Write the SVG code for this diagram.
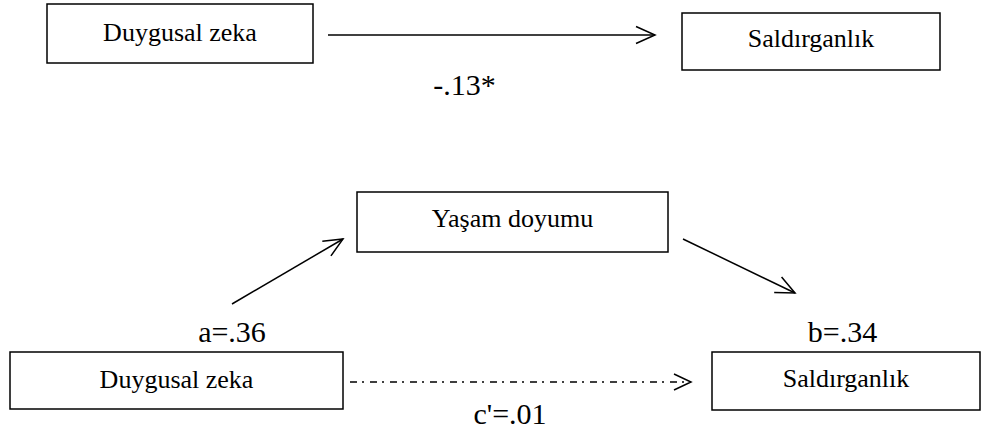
<svg xmlns="http://www.w3.org/2000/svg" width="981" height="429" viewBox="0 0 981 429">
<style>
.box{fill:#fff;stroke:#000;stroke-width:1.5}
.t{font-family:"Liberation Serif","Times New Roman",serif;font-size:26px;fill:#000;text-anchor:middle}
.lbl{font-family:"Liberation Serif","Times New Roman",serif;font-size:30px;fill:#000;text-anchor:middle}
.ln{fill:none;stroke:#000;stroke-width:1.5}
.dash{stroke-dasharray:7 5 2 6}
</style>
<defs>
<marker id="arr" markerUnits="userSpaceOnUse" markerWidth="30" markerHeight="24" viewBox="-22 -12 24 24" refX="0" refY="0" orient="auto">
<path d="M-19,-8.5 L0,0 L-19,8.5" fill="none" stroke="#000" stroke-width="1.5"/>
</marker>
</defs>
<rect width="981" height="429" fill="#fff"/>
<g id="n1"><rect class="box" x="47" y="4" width="266" height="59"/><text class="t" x="180" y="41">Duygusal zeka</text></g>
<g id="n2"><rect class="box" x="682" y="13" width="258" height="57"/><text class="t" x="811" y="47">Saldırganlık</text></g>
<g id="n3"><rect class="box" x="357" y="192" width="311" height="60"/><text class="t" x="512.5" y="227">Yaşam doyumu</text></g>
<g id="n4"><rect class="box" x="10" y="352" width="333" height="57"/><text class="t" x="176.5" y="388">Duygusal zeka</text></g>
<g id="n5"><rect class="box" x="712" y="352" width="268" height="58"/><text class="t" x="846" y="387">Saldırganlık</text></g>
<g id="edges">
<line class="ln" x1="328" y1="35" x2="655" y2="35" marker-end="url(#arr)"/>
<line class="ln" x1="232" y1="304" x2="343" y2="239" marker-end="url(#arr)"/>
<line class="ln" x1="683" y1="239" x2="795" y2="293" marker-end="url(#arr)"/>
<line class="ln dash" x1="350" y1="382" x2="691" y2="382"/>
<path class="ln" d="M674,374 L691,382 L674,390"/>
</g>
<g id="labels">
<text class="lbl" x="464.5" y="95">-.13*</text>
<text class="lbl" x="232" y="342">a=.36</text>
<text class="lbl" x="842.5" y="342">b=.34</text>
<text class="lbl" x="510" y="424">c'=.01</text>
</g>
</svg>
